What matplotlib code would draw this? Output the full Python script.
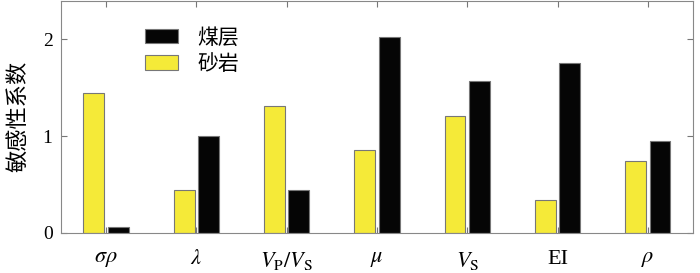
import matplotlib
matplotlib.use("Agg")
import matplotlib.pyplot as plt
import numpy as np

plt.rcParams["mathtext.fontset"] = "stix"
plt.rcParams["font.family"] = ["Liberation Serif", "Noto Sans CJK SC"]

categories = [r"$\sigma\rho$", r"$\lambda$", r"$V_\mathrm{P}/V_\mathrm{S}$",
              r"$\mu$", r"$V_\mathrm{S}$", "EI", r"$\rho$"]
sandstone = [1.45, 0.44, 1.31, 0.86, 1.21, 0.34, 0.74]
coal = [0.06, 1.00, 0.44, 2.03, 1.57, 1.76, 0.95]

x = np.arange(1, len(categories) + 1)
w = 0.23
off = 0.135

fig = plt.figure(figsize=(7.0, 2.73), dpi=100)
ax = fig.add_axes([0.087, 0.147, 0.903, 0.85])

ax.bar(x + off, coal, w, color="#050505", edgecolor="#777777", linewidth=0.8, label="煤层")
ax.bar(x - off, sandstone, w, color="#F5EA38", edgecolor="#777777", linewidth=0.8, label="砂岩")

ax.set_xlim(0.5, 7.5)
ax.set_ylim(0, 2.4)
ax.set_yticks([0, 1, 2])
ax.set_xticks(x)
ax.set_xticklabels(categories, fontsize=16)
ax.tick_params(axis="y", labelsize=14, pad=6)
ax.tick_params(direction="in", top=True, right=True, color="#777777", length=4)
ax.tick_params(axis="x", pad=12)
for s in ax.spines.values():
    s.set_color("#888888")

ax.set_ylabel("敏感性系数", fontsize=16, family="Noto Sans CJK SC", labelpad=10)

leg = ax.legend(loc="upper left", bbox_to_anchor=(0.133, 0.89), frameon=False,
                borderaxespad=0, borderpad=0,
                prop={"family": "Noto Sans CJK SC", "size": 15},
                handlelength=1.6, handleheight=0.72, handletextpad=0.9,
                labelspacing=0.2)

fig.savefig("out.png", dpi=100)
